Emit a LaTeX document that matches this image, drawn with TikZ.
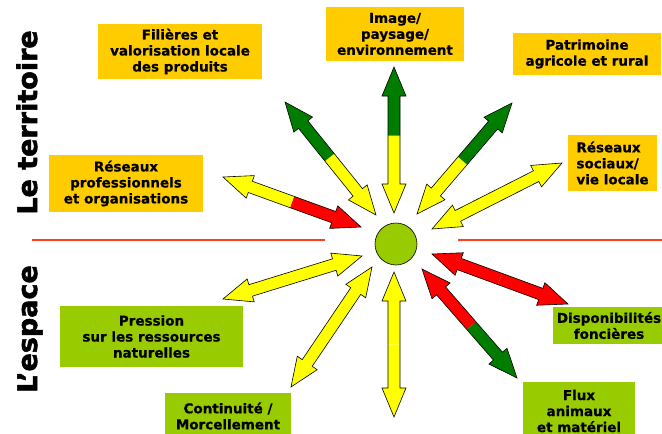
\documentclass[tikz,border=0pt]{standalone}
\usepackage{fontspec}
\setmainfont{DejaVu Sans}
\newfontfamily\heavyfont[FakeBold=2]{DejaVu Sans Bold}
\newfontfamily\boxfont[FakeBold=0.6]{DejaVu Sans Bold}
\usepackage{tikz}
\usepackage{xcolor}
\usetikzlibrary{calc}

\definecolor{boxorange}{RGB}{255,204,0}
\definecolor{boxgreen}{RGB}{153,204,0}
\definecolor{arrowyellow}{RGB}{255,255,0}
\definecolor{arrowred}{RGB}{255,0,0}
\definecolor{arrowgreen}{RGB}{0,125,0}
\definecolor{linered}{RGB}{255,64,32}

% double block arrow: from, to, colour at from, colour at to, split
\newcommand{\dualarrow}[5]{%
  \coordinate (ha) at ($(#1)!29pt!(#2)$);
  \coordinate (hb) at ($(#2)!29pt!(#1)$);
  \coordinate (hm) at ($(#1)!#5!(#2)$);
  \fill[#3] (#1) -- ($(ha)!12pt!90:(#2)$) -- ($(ha)!6pt!90:(#2)$) -- ($(hm)!6pt!90:(#2)$)
    -- ($(hm)!6pt!-90:(#2)$) -- ($(ha)!6pt!-90:(#2)$) -- ($(ha)!12pt!-90:(#2)$) -- cycle;
  \fill[#4] (#2) -- ($(hb)!12pt!90:(#1)$) -- ($(hb)!6pt!90:(#1)$) -- ($(hm)!6pt!90:(#1)$)
    -- ($(hm)!6pt!-90:(#1)$) -- ($(hb)!6pt!-90:(#1)$) -- ($(hb)!12pt!-90:(#1)$) -- cycle;
  \draw[line width=0.6pt,line join=miter] (#1) -- ($(ha)!12pt!90:(#2)$) -- ($(ha)!6pt!90:(#2)$)
    -- ($(hb)!6pt!-90:(#1)$) -- ($(hb)!12pt!-90:(#1)$) -- (#2) -- ($(hb)!12pt!90:(#1)$)
    -- ($(hb)!6pt!90:(#1)$) -- ($(ha)!6pt!-90:(#2)$) -- ($(ha)!12pt!-90:(#2)$) -- cycle;
}

\tikzset{
  topbox/.style={fill=boxorange,inner sep=0pt,align=center,font=\boxfont\fontsize{13.5}{16}\selectfont},
  lowbox/.style={fill=boxgreen,inner sep=0pt,align=center,font=\boxfont\fontsize{13.5}{16}\selectfont},
  sidetitle/.style={rotate=90,anchor=base,inner sep=0pt,font=\heavyfont\fontsize{27}{32}\selectfont}
}

\begin{document}
\begin{tikzpicture}[x=1pt,y=-1pt]
  \useasboundingbox (0,0) rectangle (662,434);

  \node[sidetitle] (territoire) at (37,122.5) {Le territoire};
  \node[sidetitle] (espace) at (37,329) {L’espace};

  \draw[linered,line width=2.8pt] (32,240) -- (325,240);
  \draw[linered,line width=2.8pt] (458,240) -- (662,240);

  \node[topbox,minimum width=164pt,minimum height=55pt] (filieres) at (180,51.5) {Filières et\\valorisation locale\\des produits};
  \node[topbox,minimum width=138pt,minimum height=54pt] (image) at (395,34) {Image/\\paysage/\\environnement};
  \node[topbox,minimum width=148pt,minimum height=42pt] (patrimoine) at (587,54) {Patrimoine\\agricole et rural};
  \node[topbox,minimum width=89pt,minimum height=56pt,align=left] (sociaux) at (612.5,163) {Réseaux\\sociaux/\\vie locale};
  \node[topbox,minimum width=154pt,minimum height=57pt] (professionnels) at (126,183.5) {Réseaux\\professionnels\\et organisations};

  \node[lowbox,minimum width=183pt,minimum height=61pt] (pression) at (151.5,336.5) {Pression\\sur les ressources\\naturelles};
  \node[lowbox,minimum width=126pt,minimum height=46pt] (continuite) at (228,416) {Continuité /\\Morcellement};
  \node[lowbox,minimum width=112pt,minimum height=37pt] (disponibilites) at (609,325.5) {Disponibilités\\foncières};
  \node[lowbox,minimum width=112pt,minimum height=58pt] (flux) at (579,411) {Flux\\animaux\\et matériel};

  \node[circle,draw,line width=0.6pt,fill=boxgreen,minimum size=42pt,inner sep=0pt] (hub) at (396,244) {};

  \coordinate (image-in) at (394,213);          \coordinate (image-out) at (394,67);
  \coordinate (filieres-in) at (376,215);       \coordinate (filieres-out) at (285,102);
  \coordinate (patrimoine-in) at (417,214);     \coordinate (patrimoine-out) at (512,103);
  \coordinate (sociaux-in) at (432,229);        \coordinate (sociaux-out) at (562,163);
  \coordinate (professionnels-in) at (361,227); \coordinate (professionnels-out) at (223,177);
  \coordinate (pression-in) at (362,256);       \coordinate (pression-out) at (223,299);
  \coordinate (continuite-in) at (372,267);     \coordinate (continuite-out) at (291,387);
  \coordinate (bas-in) at (394,272);            \coordinate (bas-out) at (394,417);
  \coordinate (flux-in) at (422,269);           \coordinate (flux-out) at (517,378);
  \coordinate (disponibilites-in) at (432,254); \coordinate (disponibilites-out) at (568,304);

  \dualarrow{image-in}{image-out}{arrowyellow}{arrowgreen}{0.53}
  \dualarrow{filieres-in}{filieres-out}{arrowyellow}{arrowgreen}{0.51}
  \dualarrow{patrimoine-in}{patrimoine-out}{arrowyellow}{arrowgreen}{0.48}
  \dualarrow{sociaux-in}{sociaux-out}{arrowyellow}{arrowyellow}{0.5}
  \dualarrow{professionnels-in}{professionnels-out}{arrowred}{arrowyellow}{0.5}
  \dualarrow{pression-in}{pression-out}{arrowyellow}{arrowyellow}{0.5}
  \dualarrow{continuite-in}{continuite-out}{arrowyellow}{arrowyellow}{0.5}
  \dualarrow{bas-in}{bas-out}{arrowyellow}{arrowyellow}{0.5}
  \dualarrow{flux-in}{flux-out}{arrowred}{arrowgreen}{0.52}
  \dualarrow{disponibilites-in}{disponibilites-out}{arrowred}{arrowred}{0.5}
\end{tikzpicture}
\end{document}
